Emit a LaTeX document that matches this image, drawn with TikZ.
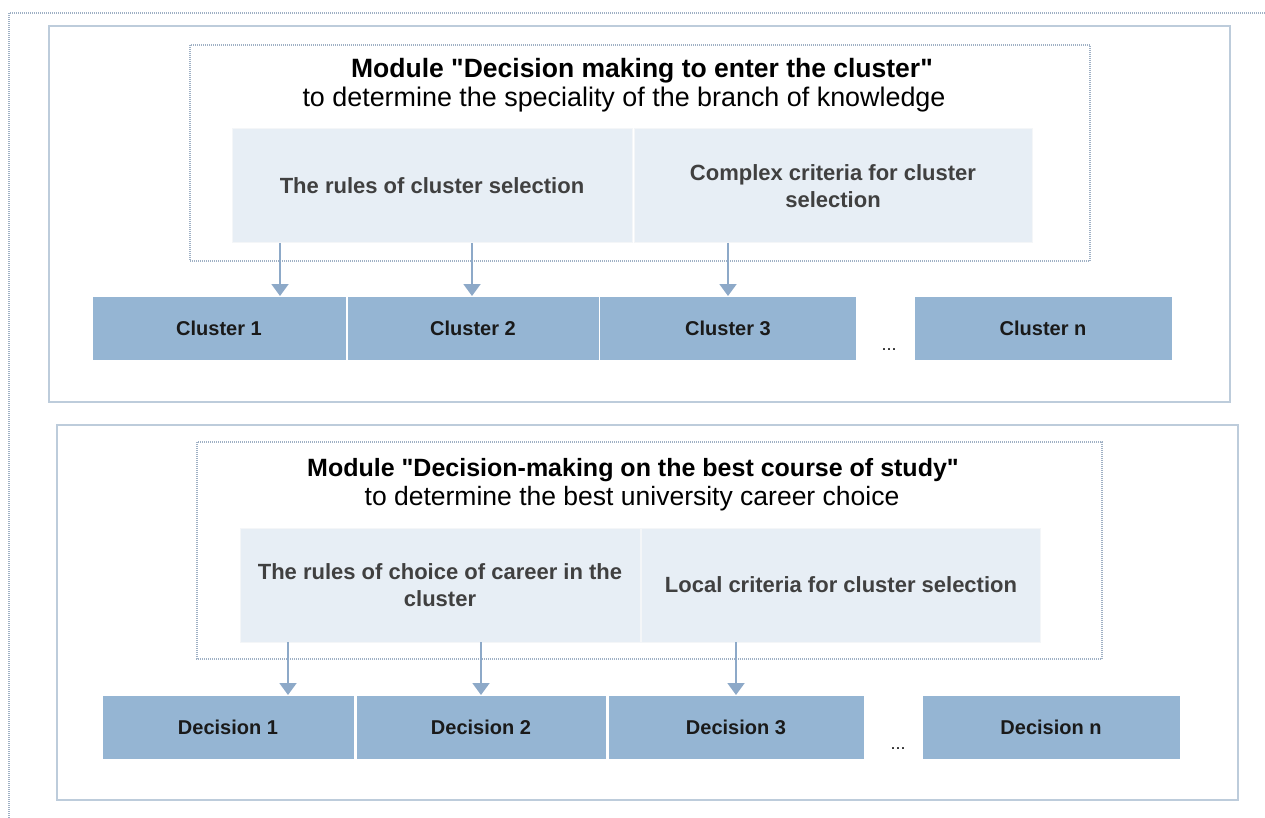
\documentclass[tikz,border=0pt]{standalone}
\usepackage{fontspec}
\setmainfont{Liberation Sans}
\usetikzlibrary{arrows.meta}
\definecolor{panelline}{HTML}{BDCCDB}
\definecolor{dotline}{HTML}{9FB0C4}
\definecolor{lightfill}{HTML}{E7EEF5}
\definecolor{lightline}{HTML}{F4F6F8}
\definecolor{clusterfill}{HTML}{95B5D3}
\definecolor{arrowcol}{HTML}{8DA9C8}
\definecolor{graytext}{HTML}{404040}
\definecolor{darktext}{HTML}{1A1A1A}
\newcommand{\dq}{\XeTeXglyph\XeTeXcharglyph"22\relax}
\begin{document}
\begin{tikzpicture}[x=1pt,y=-1pt,
  panel/.style={draw=panelline,line width=2pt},
  modbox/.style={draw=dotline,line width=1.2pt,dash pattern=on 1pt off 1pt},
  rulebox/.style={draw=lightline,line width=1pt,fill=lightfill,inner sep=0pt,outer sep=0pt,
    text=graytext,font=\bfseries\fontsize{22}{27}\selectfont,align=center,
    minimum height=114pt},
  clbox/.style={draw=white,line width=1pt,fill=clusterfill,inner sep=0pt,outer sep=0pt,
    text=darktext,font=\bfseries\fontsize{20}{22}\selectfont,minimum height=64pt},
  title/.style={font=\fontsize{26.5}{29}\selectfont,text=black,inner sep=0pt},
  dotsnode/.style={font=\fontsize{18}{18}\selectfont,text=darktext},
  arr/.style={draw=arrowcol,line width=2pt,-{Triangle[width=17pt,length=12pt]}},
]
\useasboundingbox (0,0) rectangle (1265,818);
% outer dotted frame
\draw[dotline,line width=1.2pt,dash pattern=on 1pt off 1pt] (1265,13) -- (9,13) -- (9,818);

% ===== top panel =====
\draw[panel] (49,26) rectangle (1230,402);
\draw[modbox] (190,45) rectangle (1090,261);
\node[title,anchor=base] (t1) at (642,78) {\bfseries Module \dq Decision making to enter the cluster\dq};
\node[title,anchor=base,font=\fontsize{26.9}{29}\selectfont] (t1b) at (624,107) {to determine the speciality of the branch of knowledge};
\node[rulebox,minimum width=400pt] (r1) at (432,186) {The rules of cluster selection};
\node[rulebox,minimum width=398pt] (r2) at (833,186) {Complex criteria for cluster\\selection};
\node[clbox,minimum width=254pt] (c1) at (219,328) {Cluster 1};
\node[clbox,minimum width=252pt] (c2) at (473,328) {Cluster 2};
\node[clbox,minimum width=257pt] (c3) at (728,328) {Cluster 3};
\node[dotsnode] (cd) at (889,350) {...};
\node[clbox,minimum width=258pt] (cn) at (1043,328) {Cluster n};
\draw[arr] ([xshift=-152pt]r1.south) -- ([xshift=61pt]c1.north);
\draw[arr] ([xshift=40pt]r1.south) -- ([xshift=-1pt]c2.north);
\draw[arr] ([xshift=-105pt]r2.south) -- (c3.north);

% ===== bottom panel =====
\draw[panel] (57,425) rectangle (1238,800);
\draw[modbox] (197,442) rectangle (1102,659);
\node[title,anchor=base,font=\bfseries\fontsize{25}{29}\selectfont] (t2) at (633,476) {Module \dq Decision-making on the best course of study\dq};
\node[title,anchor=base] (t2b) at (632,505) {to determine the best university career choice};
\node[rulebox,minimum width=400pt] (s1) at (440,585) {The rules of choice of career in the\\cluster};
\node[rulebox,minimum width=399pt] (s2) at (841,585) {Local criteria for cluster selection};
\node[clbox,minimum width=252pt] (d1) at (228,727) {Decision 1};
\node[clbox,minimum width=250pt] (d2) at (481,727) {Decision 2};
\node[clbox,minimum width=256pt] (d3) at (736,727) {Decision 3};
\node[dotsnode] (dd) at (898,749) {...};
\node[clbox,minimum width=258pt] (dn) at (1051,727) {Decision n};
\draw[arr] ([xshift=-152pt]s1.south) -- ([xshift=60pt]d1.north);
\draw[arr] ([xshift=41pt]s1.south) -- (d2.north);
\draw[arr] ([xshift=-105pt]s2.south) -- (d3.north);
\end{tikzpicture}
\end{document}
